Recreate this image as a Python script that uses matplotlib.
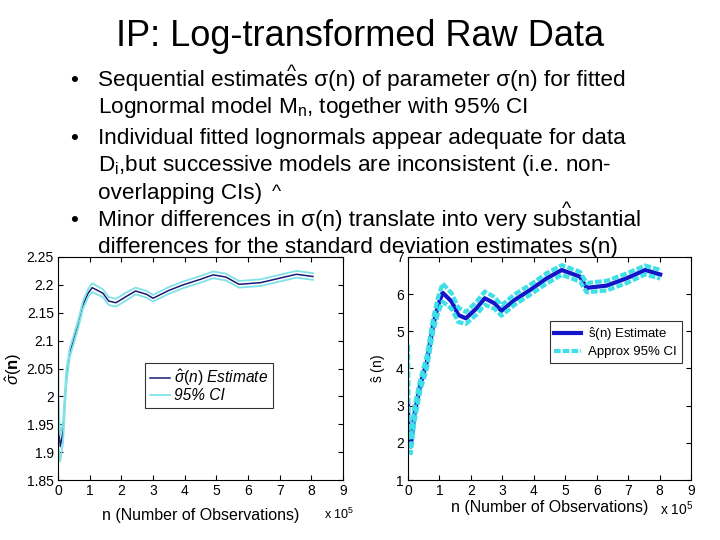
import matplotlib
matplotlib.use("Agg")
import matplotlib.pyplot as plt

plt.rcParams['font.family'] = ['Liberation Sans', 'DejaVu Sans']
plt.rcParams['mathtext.fontset'] = 'custom'
plt.rcParams['mathtext.rm'] = 'Liberation Sans'
plt.rcParams['mathtext.it'] = 'Liberation Sans:italic'
plt.rcParams['mathtext.bf'] = 'Liberation Sans:bold'

# sigma-hat(n), left panel (n in units of 1e5)
n_sig = [0.0, 0.02, 0.07, 0.16, 0.26, 0.37, 0.63, 0.79, 0.95, 1.08, 1.42, 1.6, 1.83,
         2.15, 2.45, 2.8, 3.0, 3.5, 3.95, 4.5, 4.9, 5.3, 5.72, 6.4, 7.15, 7.53, 8.05]
sig_est = [2.035, 1.94, 1.91, 1.937, 2.033, 2.078, 2.128, 2.164, 2.185, 2.195, 2.185, 2.171, 2.168,
           2.179, 2.189, 2.183, 2.176, 2.19, 2.2, 2.21, 2.218, 2.214, 2.201, 2.204, 2.214, 2.219, 2.215]
sig_hi = [2.137, 1.975, 1.93, 1.955, 2.045, 2.086, 2.135, 2.171, 2.192, 2.203, 2.192, 2.178, 2.175,
          2.186, 2.195, 2.189, 2.182, 2.196, 2.206, 2.216, 2.224, 2.22, 2.207, 2.21, 2.22, 2.225, 2.221]
sig_lo = [1.935, 1.905, 1.883, 1.918, 2.02, 2.07, 2.121, 2.157, 2.178, 2.187, 2.178, 2.164, 2.161,
          2.172, 2.183, 2.177, 2.17, 2.184, 2.194, 2.204, 2.212, 2.208, 2.195, 2.198, 2.208, 2.213, 2.209]

# s-hat(n), right panel
n_s = [0.0, 0.02, 0.09, 0.2, 0.39, 0.6, 0.8, 0.96, 1.1, 1.39, 1.6, 1.84, 2.18,
       2.44, 2.76, 2.97, 3.4, 3.88, 4.4, 4.89, 5.47, 5.68, 6.32, 6.96, 7.54, 8.02]
s_est = [3.02, 2.04, 1.9, 2.75, 3.56, 4.18, 5.17, 5.71, 6.04, 5.8, 5.44, 5.35, 5.62,
         5.89, 5.75, 5.55, 5.85, 6.11, 6.42, 6.65, 6.47, 6.17, 6.23, 6.43, 6.65, 6.53]
s_hi = [4.63, 2.3, 2.1, 2.95, 3.7, 4.35, 5.35, 5.93, 6.29, 6.02, 5.64, 5.52, 5.8,
        6.07, 5.92, 5.7, 6.0, 6.25, 6.56, 6.78, 6.6, 6.3, 6.36, 6.56, 6.77, 6.65]
s_lo = [2.5, 1.8, 1.72, 2.55, 3.4, 4.0, 5.0, 5.5, 5.8, 5.6, 5.25, 5.2, 5.45,
        5.72, 5.6, 5.42, 5.72, 5.98, 6.28, 6.52, 6.34, 6.05, 6.1, 6.3, 6.53, 6.42]

sig_ticks = [1.85, 1.9, 1.95, 2, 2.05, 2.1, 2.15, 2.2, 2.25]
sig_ticklabels = ['1.85', '1.9', '1.95', '2', '2.05', '2.1', '2.15', '2.2', '2.25']
s_ticks = [1, 2, 3, 4, 5, 6, 7]
x_ticks = list(range(10))

title = "IP: Log-transformed Raw Data"
bullet_lines = [
    "Sequential estimates σ(n) of parameter σ(n) for fitted",
    r"Lognormal model M$_\mathrm{n}$, together with 95% CI",
    "Individual fitted lognormals appear adequate for data",
    r"D$_\mathrm{i}$,but successive models are inconsistent (i.e. non-",
    "overlapping CIs)",
    "Minor differences in σ(n) translate into very substantial",
    "differences for the standard deviation estimates s(n)",
]
bullet_marks = [0, 2, 5]

W, H = 720, 540
fig = plt.figure(figsize=(7.2, 5.4), dpi=100)


def fx(x):
    return x / W


def fy(y):
    return 1 - y / H


fig.text(fx(360), fy(46), title, ha='center', va='baseline', fontsize=26)

baselines = [86, 113, 144, 171, 199, 226, 253]
for i, line in enumerate(bullet_lines):
    fig.text(fx(98), fy(baselines[i]), line, ha='left', va='baseline', fontsize=16.2)
    if i in bullet_marks:
        fig.text(fx(70), fy(baselines[i]), "•", ha='left', va='baseline', fontsize=16.2)
# carets drawn above symbols, as on the slide
for cx, cy in [(291, 77), (276, 197), (566, 214)]:
    fig.text(fx(cx), fy(cy), "^", ha='center', va='baseline', fontsize=14)

# left panel
ax1 = fig.add_axes([fx(58), fy(480), 285 / W, 223 / H])
ax1.plot(n_sig, sig_est, color='#1a1a78', lw=1.1, label=r'$\hat{\sigma}(n)$ Estimate')
ax1.plot(n_sig, sig_hi, color='#7fe3e6', lw=1.3, label='95% CI')
ax1.plot(n_sig, sig_lo, color='#7fe3e6', lw=1.3)
ax1.set_xlim(0, 9)
ax1.set_ylim(1.85, 2.25)
ax1.set_yticks(sig_ticks)
ax1.set_yticklabels(sig_ticklabels)
ax1.set_xticks(x_ticks)
ax1.set_xlabel("n (Number of Observations)", fontsize=11.5, labelpad=7)
ax1.set_ylabel(r'$\hat{\sigma}(\mathbf{n})$', fontsize=12, labelpad=2, fontstyle='italic')
leg1 = ax1.legend(loc='upper left', bbox_to_anchor=(0.305, 0.525), fontsize=11.2,
                  frameon=True, fancybox=False, edgecolor='black', handlelength=1.3,
                  handletextpad=0.3, borderpad=0.3, labelspacing=0.0, borderaxespad=0)
for t in leg1.get_texts():
    t.set_fontstyle('italic')
leg1.get_frame().set_linewidth(0.8)
ax1.text(0.985, -0.155, r'x 10$^5$', transform=ax1.transAxes, ha='center', va='center', fontsize=9)

# right panel
ax2 = fig.add_axes([fx(408), fy(480), 283 / W, 223 / H])
ax2.plot(n_s, s_est, color='#1414c8', lw=3, label=r'$\hat{\mathrm{s}}$(n) Estimate')
ax2.plot(n_s, s_hi, color='#3ee0e8', lw=3, ls=(0, (1.6, 0.5)), label='Approx 95% CI')
ax2.plot(n_s, s_lo, color='#3ee0e8', lw=3, ls=(0, (1.6, 0.5)))
ax2.set_xlim(0, 9)
ax2.set_ylim(1, 7)
ax2.set_yticks(s_ticks)
ax2.set_xticks(x_ticks)
ax2.set_xlabel("n (Number of Observations)", fontsize=11.5, labelpad=1)
ax2.set_ylabel(r'$\hat{\mathrm{s}}$ (n)', fontsize=10, labelpad=6)
leg2 = ax2.legend(loc='upper left', bbox_to_anchor=(0.5, 0.715), fontsize=9.5,
                  frameon=True, fancybox=False, edgecolor='black', handlelength=2.0,
                  handletextpad=0.6, borderpad=0.35, labelspacing=0.25, borderaxespad=0)
leg2.get_frame().set_linewidth(0.8)
ax2.text(0.95, -0.13, r'x 10$^5$', transform=ax2.transAxes, ha='center', va='center', fontsize=10)

for ax in (ax1, ax2):
    ax.tick_params(direction='in', top=True, right=True, length=3.5, width=0.8,
                   labelsize=10, pad=3)
    for sp in ax.spines.values():
        sp.set_linewidth(0.8)

fig.savefig("out.png", dpi=100)
